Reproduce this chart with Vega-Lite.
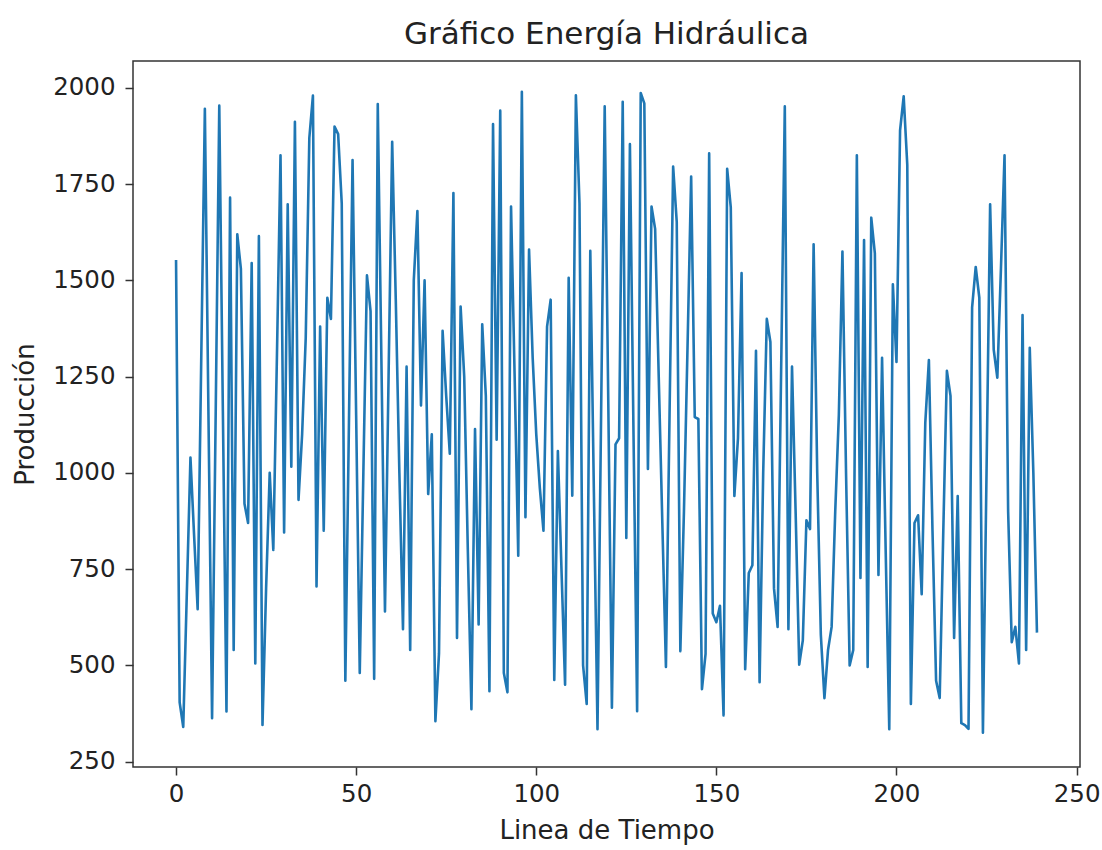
{
  "$schema": "https://vega.github.io/schema/vega-lite/v6.json",
  "width": 947,
  "height": 706,
  "autosize": {"type": "none"},
  "padding": {"left": 133, "top": 61, "right": 22, "bottom": 83},
  "background": "white",
  "title": {"text": "Gráfico Energía Hidráulica", "fontSize": 31, "font": "DejaVu Sans", "fontWeight": "normal", "offset": 10, "color": "#222222"},
  "config": {
    "font": "DejaVu Sans",
    "view": {"stroke": "#333333", "strokeWidth": 1.5},
    "axis": {"grid": false, "domain": false, "tickColor": "#333333", "tickWidth": 1.5, "tickSize": 8, "labelFontSize": 24.5, "labelColor": "#222222", "titleFontSize": 26, "titleColor": "#222222", "titleFontWeight": "normal", "labelPadding": 7, "format": "d"}
  },
  "data": {"values": [
{"t":0,"p":1553},{"t":1,"p":404},{"t":2,"p":340},{"t":3,"p":690},{"t":4,"p":1040},{"t":5,"p":840},{"t":6,"p":646},{"t":7,"p":1300},{"t":8,"p":1946},{"t":9,"p":1150},
{"t":10,"p":363},{"t":11,"p":1150},{"t":12,"p":1954},{"t":13,"p":1160},{"t":14,"p":380},{"t":15,"p":1715},{"t":16,"p":540},{"t":17,"p":1620},{"t":18,"p":1530},{"t":19,"p":920},
{"t":20,"p":870},{"t":21,"p":1545},{"t":22,"p":505},{"t":23,"p":1615},{"t":24,"p":345},{"t":25,"p":700},{"t":26,"p":1000},{"t":27,"p":800},{"t":28,"p":1300},{"t":29,"p":1825},
{"t":30,"p":845},{"t":31,"p":1698},{"t":32,"p":1016},{"t":33,"p":1912},{"t":34,"p":930},{"t":35,"p":1100},{"t":36,"p":1350},{"t":37,"p":1870},{"t":38,"p":1980},{"t":39,"p":705},
{"t":40,"p":1380},{"t":41,"p":850},{"t":42,"p":1455},{"t":43,"p":1400},{"t":44,"p":1900},{"t":45,"p":1880},{"t":46,"p":1700},{"t":47,"p":460},{"t":48,"p":1130},{"t":49,"p":1813},
{"t":50,"p":1150},{"t":51,"p":480},{"t":52,"p":1000},{"t":53,"p":1513},{"t":54,"p":1420},{"t":55,"p":465},{"t":56,"p":1958},{"t":57,"p":1300},{"t":58,"p":640},{"t":59,"p":1250},
{"t":60,"p":1860},{"t":61,"p":1450},{"t":62,"p":1000},{"t":63,"p":594},{"t":64,"p":1276},{"t":65,"p":540},{"t":66,"p":1500},{"t":67,"p":1680},{"t":68,"p":1175},{"t":69,"p":1500},
{"t":70,"p":945},{"t":71,"p":1100},{"t":72,"p":355},{"t":73,"p":531},{"t":74,"p":1369},{"t":75,"p":1200},{"t":76,"p":1050},{"t":77,"p":1727},{"t":78,"p":571},{"t":79,"p":1432},
{"t":80,"p":1250},{"t":81,"p":800},{"t":82,"p":386},{"t":83,"p":1114},{"t":84,"p":606},{"t":85,"p":1386},{"t":86,"p":1200},{"t":87,"p":433},{"t":88,"p":1906},{"t":89,"p":1086},
{"t":90,"p":1941},{"t":91,"p":480},{"t":92,"p":430},{"t":93,"p":1692},{"t":94,"p":1250},{"t":95,"p":785},{"t":96,"p":1990},{"t":97,"p":885},{"t":98,"p":1580},{"t":99,"p":1300},
{"t":100,"p":1100},{"t":101,"p":960},{"t":102,"p":850},{"t":103,"p":1380},{"t":104,"p":1450},{"t":105,"p":462},{"t":106,"p":1057},{"t":107,"p":750},{"t":108,"p":450},{"t":109,"p":1507},
{"t":110,"p":941},{"t":111,"p":1981},{"t":112,"p":1700},{"t":113,"p":500},{"t":114,"p":400},{"t":115,"p":1577},{"t":116,"p":950},{"t":117,"p":334},{"t":118,"p":1150},{"t":119,"p":1952},
{"t":120,"p":1180},{"t":121,"p":390},{"t":122,"p":1074},{"t":123,"p":1090},{"t":124,"p":1964},{"t":125,"p":831},{"t":126,"p":1854},{"t":127,"p":1100},{"t":128,"p":381},{"t":129,"p":1987},
{"t":130,"p":1960},{"t":131,"p":1010},{"t":132,"p":1692},{"t":133,"p":1634},{"t":134,"p":1250},{"t":135,"p":870},{"t":136,"p":496},{"t":137,"p":1150},{"t":138,"p":1796},{"t":139,"p":1652},
{"t":140,"p":537},{"t":141,"p":900},{"t":142,"p":1330},{"t":143,"p":1770},{"t":144,"p":1145},{"t":145,"p":1140},{"t":146,"p":438},{"t":147,"p":530},{"t":148,"p":1830},{"t":149,"p":635},
{"t":150,"p":612},{"t":151,"p":655},{"t":152,"p":370},{"t":153,"p":1790},{"t":154,"p":1690},{"t":155,"p":940},{"t":156,"p":1090},{"t":157,"p":1519},{"t":158,"p":490},{"t":159,"p":740},
{"t":160,"p":760},{"t":161,"p":1317},{"t":162,"p":456},{"t":163,"p":1000},{"t":164,"p":1400},{"t":165,"p":1340},{"t":166,"p":700},{"t":167,"p":600},{"t":168,"p":1280},{"t":169,"p":1952},
{"t":170,"p":594},{"t":171,"p":1276},{"t":172,"p":900},{"t":173,"p":502},{"t":174,"p":565},{"t":175,"p":877},{"t":176,"p":854},{"t":177,"p":1594},{"t":178,"p":1000},{"t":179,"p":580},
{"t":180,"p":415},{"t":181,"p":540},{"t":182,"p":600},{"t":183,"p":900},{"t":184,"p":1150},{"t":185,"p":1575},{"t":186,"p":1000},{"t":187,"p":500},{"t":188,"p":540},{"t":189,"p":1825},
{"t":190,"p":727},{"t":191,"p":1605},{"t":192,"p":496},{"t":193,"p":1663},{"t":194,"p":1570},{"t":195,"p":735},{"t":196,"p":1299},{"t":197,"p":800},{"t":198,"p":334},{"t":199,"p":1490},
{"t":200,"p":1288},{"t":201,"p":1890},{"t":202,"p":1978},{"t":203,"p":1800},{"t":204,"p":400},{"t":205,"p":870},{"t":206,"p":890},{"t":207,"p":685},{"t":208,"p":1130},{"t":209,"p":1293},
{"t":210,"p":850},{"t":211,"p":460},{"t":212,"p":415},{"t":213,"p":850},{"t":214,"p":1265},{"t":215,"p":1200},{"t":216,"p":571},{"t":217,"p":940},{"t":218,"p":350},{"t":219,"p":345},
{"t":220,"p":335},{"t":221,"p":1430},{"t":222,"p":1535},{"t":223,"p":1455},{"t":224,"p":325},{"t":225,"p":1000},{"t":226,"p":1698},{"t":227,"p":1320},{"t":228,"p":1247},{"t":229,"p":1530},
{"t":230,"p":1825},{"t":231,"p":900},{"t":232,"p":560},{"t":233,"p":600},{"t":234,"p":505},{"t":235,"p":1410},{"t":236,"p":540},{"t":237,"p":1325},{"t":238,"p":1000},{"t":239,"p":585}
  ]},
  "mark": {"type": "line", "color": "#1f77b4", "strokeWidth": 2.6, "strokeJoin": "round", "strokeCap": "butt"},
  "encoding": {
    "x": {"field": "t", "type": "quantitative", "scale": {"domain": [-11.95, 250.95], "nice": false, "zero": false},
      "axis": {"values": [0, 50, 100, 150, 200, 250], "title": "Linea de Tiempo", "titlePadding": 12}},
    "y": {"field": "p", "type": "quantitative", "scale": {"domain": [236, 2070], "nice": false, "zero": false},
      "axis": {"values": [250, 500, 750, 1000, 1250, 1500, 1750, 2000], "title": "Producción", "labelPadding": 10, "titlePadding": 14}}
  }
}
